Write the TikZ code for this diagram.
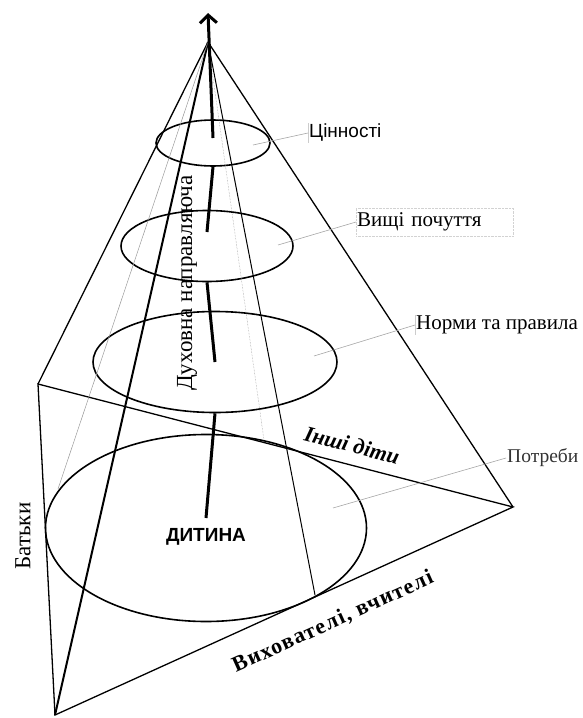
\documentclass[tikz,border=0pt]{standalone}
\usepackage{fontspec}
\setmainfont{Liberation Serif}
\newfontfamily\arialfont{Liberation Sans}
\usetikzlibrary{arrows.meta,shapes.geometric,calc}

\begin{document}
\begin{tikzpicture}[x=1pt,y=-1pt,
        edge/.style={line width=1.3pt},
        front/.style={line width=2pt},
        faint/.style={line width=0.5pt, gray!80},
        disc/.style={draw, ellipse, line width=1.6pt, inner sep=0pt},
        axis/.style={line width=3pt},
        leader/.style={line width=0.6pt, gray!70},
        lbl/.style={inner sep=1pt, font=\fontsize{21}{25}\selectfont},
        >={Straight Barb[length=8pt,width=17pt]}
    ]
    \useasboundingbox (0,0) rectangle (583,718);

    % pyramid corners
    \coordinate (apex) at (208,42);
    \coordinate (top) at (208,13);
    \coordinate (left) at (38,384);
    \coordinate (bottom) at (55,715);
    \coordinate (right) at (513,507);
    \coordinate (tl) at (58,489);
    \coordinate (tr) at (264,440);
    \coordinate (tb) at (315,595);

    \node[lbl, font=\fontsize{23}{27}\selectfont, rotate=90] (axislbl) at (187,283) {Духовна направляюча};

    % levels
    \node[disc, minimum width=114pt, minimum height=46pt] (e1) at (213,143) {};
    \node[disc, minimum width=172pt, minimum height=71pt] (e2) at (207,246) {};
    \node[disc, minimum width=244pt, minimum height=101pt] (e3) at (215,362) {};
    \node[disc, minimum width=321pt, minimum height=187pt] (e4) at (206,528) {};

    \draw[edge] (apex) -- (left);
    \draw[edge] (apex) -- (right);
    \draw[front] (apex) -- (bottom);
    \draw[edge] (left) -- (bottom) -- (right) -- cycle;
    \draw[faint] (apex) -- (tl);
    \draw[faint, densely dotted] (apex) -- (tr);
    \draw[line width=1pt] (apex) -- (tb);

    % axis
    \draw[axis] (e4.center) ++(0,-10) -- (e3.south);
    \draw[axis] (e3.center) -- (e2.south);
    \draw[axis] (e2.center) ++(0,-14) -- (e1.south);
    \draw[axis,->] (e1.center) ++(0,-5) -- (top);

    \node[inner sep=1pt, font=\arialfont\bfseries\fontsize{19}{23}\selectfont] (child) at (206,537) {ДИТИНА};

    % labels
    \node[inner sep=1pt, anchor=west, font=\arialfont\fontsize{19}{23}\selectfont] (lv1) at (308,133) {Цінності};
    \node[lbl, anchor=west, draw=gray!35, densely dotted, text width=155pt, minimum height=28pt] (lv2) at (356,222) {Вищі почуття};
    \node[lbl, anchor=west] (lv3) at (415,325) {Норми та правила};
    \node[lbl, anchor=west, font=\fontsize{19.5}{23}\selectfont, text=black!80] (lv4) at (506,458) {Потреби};
    \draw[gray!40] (lv1.north west) -- (lv1.south west);
    \draw[gray!40] (lv3.north west) -- (lv3.south west);

    \draw[leader] ($(e1.center)+(40,2)$) -- (lv1.west);
    \draw[leader] ($(e2.center)+(71,-1)$) -- (lv2.west);
    \draw[leader] ($(e3.center)+(99,-6)$) -- (lv3.west);
    \draw[leader] ($(e4.center)+(127,-20)$) -- (lv4.west);

    \node[lbl, font=\bfseries\itshape\fontsize{22}{26}\selectfont, rotate=-14.5] (peers) at (352,445) {Інші діти};
    \node[lbl, font=\bfseries\fontsize{22}{26}\selectfont, rotate=24.4] (teachers) at (333,622) {\addfontfeature{LetterSpace=6}Вихователі, вчителі};
    \node[lbl, font=\fontsize{23}{27}\selectfont, rotate=90] (parents) at (23,536) {Батьки};
\end{tikzpicture}
\end{document}
